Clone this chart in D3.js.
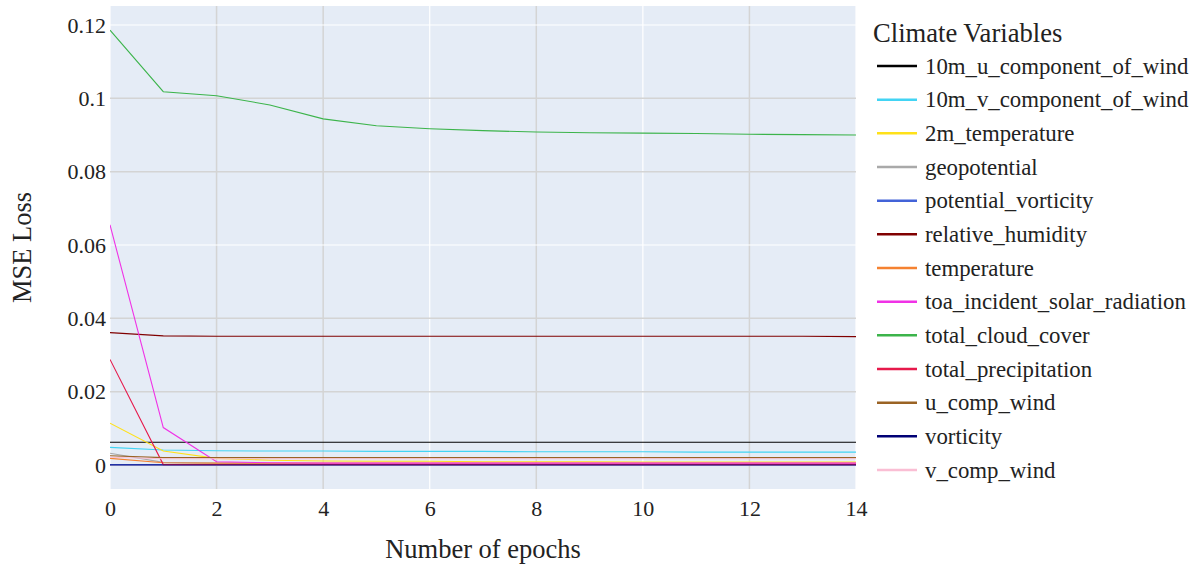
<!DOCTYPE html>
<html>
<head>
<meta charset="utf-8">
<script src="https://cdn.jsdelivr.net/npm/d3@7"></script>
<style>
  html, body { margin: 0; padding: 0; background: #fff; }
  svg { display: block; font-family: "Liberation Serif", "Times New Roman", serif; }
</style>
</head>
<body>
<svg id="chart" width="1198" height="570"></svg>
<script>
// Training loss per climate variable over epochs
const epochs = [0, 1, 2, 3, 4, 5, 6, 7, 8, 9, 10, 11, 12, 13, 14];

const variables = [
  "10m_u_component_of_wind", "10m_v_component_of_wind", "2m_temperature",
  "geopotential", "potential_vorticity", "relative_humidity", "temperature",
  "toa_incident_solar_radiation", "total_cloud_cover", "total_precipitation",
  "u_comp_wind", "vorticity", "v_comp_wind"
];

const colors = [
  "#000000", "#42d4f4", "#ffe119", "#a9a9a9", "#4363d8", "#800000", "#f58231",
  "#f032e6", "#3cb44b", "#e6194b", "#9a6324", "#000075", "#fabed4"
];

const loss10mU  = [0.0062, 0.0062, 0.0062, 0.0062, 0.0062, 0.0062, 0.0062, 0.0062, 0.0062, 0.0062, 0.0062, 0.0062, 0.0062, 0.0062, 0.0062];
const loss10mV  = [0.0048, 0.0041, 0.0039, 0.0038, 0.0038, 0.0037, 0.0037, 0.0037, 0.0036, 0.0036, 0.0036, 0.0035, 0.0035, 0.0035, 0.0035];
const loss2mT   = [0.0114, 0.0038, 0.0018, 0.0013, 0.0011, 0.0010, 0.0010, 0.0009, 0.0009, 0.0009, 0.0008, 0.0008, 0.0008, 0.0008, 0.0008];
const lossGeo   = [0.0032, 0.0007, 0.0005, 0.0004, 0.0004, 0.0004, 0.0004, 0.0004, 0.0003, 0.0003, 0.0003, 0.0003, 0.0003, 0.0003, 0.0003];
const lossPV    = [0.0001, 0.0001, 0.0001, 0.0001, 0.0001, 0.0001, 0.0001, 0.0001, 0.0001, 0.0001, 0.0001, 0.0001, 0.0001, 0.0001, 0.0001];
const lossRH    = [0.0361, 0.0352, 0.0351, 0.0351, 0.0351, 0.0351, 0.0351, 0.0351, 0.0351, 0.0351, 0.0351, 0.0351, 0.0351, 0.0351, 0.0350];
const lossTemp  = [0.0018, 0.0006, 0.0005, 0.0005, 0.0005, 0.0005, 0.0005, 0.0005, 0.0005, 0.0005, 0.0005, 0.0005, 0.0005, 0.0005, 0.0005];
const lossToa   = [0.0655, 0.0102, 0.0009, 0.0006, 0.0005, 0.0005, 0.0005, 0.0005, 0.0005, 0.0005, 0.0005, 0.0005, 0.0005, 0.0005, 0.0005];
const lossTcc   = [0.1186, 0.1018, 0.1007, 0.0982, 0.0944, 0.0925, 0.0917, 0.0912, 0.0908, 0.0906, 0.0905, 0.0904, 0.0902, 0.0901, 0.0900];
const lossTp    = [0.0288, 0.0001, 0.0001, 0.0001, 0.0001, 0.0001, 0.0001, 0.0001, 0.0001, 0.0001, 0.0001, 0.0001, 0.0001, 0.0001, 0.0001];
const lossUComp = [0.0025, 0.0020, 0.0020, 0.0020, 0.0020, 0.0020, 0.0020, 0.0020, 0.0020, 0.0020, 0.0020, 0.0020, 0.0020, 0.0020, 0.0020];
const lossVort  = [0.0000, 0.0000, 0.0000, 0.0000, 0.0000, 0.0000, 0.0000, 0.0000, 0.0000, 0.0000, 0.0000, 0.0000, 0.0000, 0.0000, 0.0000];
const lossVComp = [0.0021, 0.0017, 0.0017, 0.0017, 0.0017, 0.0017, 0.0017, 0.0017, 0.0017, 0.0017, 0.0017, 0.0017, 0.0017, 0.0017, 0.0017];

const seriesValues = [
  loss10mU, loss10mV, loss2mT, lossGeo, lossPV, lossRH, lossTemp,
  lossToa, lossTcc, lossTp, lossUComp, lossVort, lossVComp
];

const xTicks = [0, 2, 4, 6, 8, 10, 12, 14];
const yTicks = [0, 0.02, 0.04, 0.06, 0.08, 0.1, 0.12];
const xTickLabels = ["0", "2", "4", "6", "8", "10", "12", "14"];
const yTickLabels = ["0", "0.02", "0.04", "0.06", "0.08", "0.1", "0.12"];

// gridlines alternate between white and light grey
const xGridGrey = [false, true, true, false, true, false, true, false];
const yGridGrey = [false, true, true, false, true, true, false];

const svg = d3.select("#chart");
const plot = { left: 110, right: 856, top: 6, bottom: 489 };

const x = d3.scaleLinear().domain([0, 14]).range([plot.left, plot.right]);
const y = d3.scaleLinear().domain([-0.00655, 0.12518]).range([plot.bottom, plot.top]);

svg.append("rect")
  .attr("x", plot.left).attr("y", plot.top)
  .attr("width", plot.right - plot.left).attr("height", plot.bottom - plot.top)
  .attr("fill", "#e5ecf6");

// vertical grid
svg.append("g").selectAll("line").data(xTicks).join("line")
  .attr("x1", d => x(d)).attr("x2", d => x(d))
  .attr("y1", plot.top).attr("y2", plot.bottom)
  .attr("stroke", (d, i) => xGridGrey[i] ? "#d4d4d4" : "#ffffff")
  .attr("stroke-width", (d, i) => xGridGrey[i] ? 1.5 : 1.2);

// horizontal grid
svg.append("g").selectAll("line").data(yTicks).join("line")
  .attr("x1", plot.left).attr("x2", plot.right)
  .attr("y1", d => y(d)).attr("y2", d => y(d))
  .attr("stroke", (d, i) => yGridGrey[i] ? "#d4d4d4" : "#ffffff")
  .attr("stroke-width", (d, i) => d === 0 ? 2 : (yGridGrey[i] ? 1.5 : 1.2));

// axes text via d3 axes
const xAxis = d3.axisBottom(x).tickValues(xTicks)
  .tickFormat((d, i) => xTickLabels[i]).tickSize(0).tickPadding(11);
const gx = svg.append("g").attr("transform", `translate(0,${plot.bottom})`).call(xAxis)
  .attr("font-family", null).attr("font-size", 22);
gx.select(".domain").remove();
gx.selectAll("text").attr("fill", "#222");

const yAxis = d3.axisLeft(y).tickValues(yTicks)
  .tickFormat((d, i) => yTickLabels[i]).tickSize(0).tickPadding(4);
const gy = svg.append("g").attr("transform", `translate(${plot.left},0)`).call(yAxis)
  .attr("font-family", null).attr("font-size", 22);
gy.select(".domain").remove();
gy.selectAll("text").attr("fill", "#222");

// series lines
const clipId = "plotClip";
svg.append("clipPath").attr("id", clipId).append("rect")
  .attr("x", plot.left).attr("y", plot.top)
  .attr("width", plot.right - plot.left).attr("height", plot.bottom - plot.top);

const line = d3.line().x((d, i) => x(epochs[i])).y(d => y(d));
svg.append("g").attr("clip-path", `url(#${clipId})`)
  .selectAll("path").data(seriesValues).join("path")
  .attr("d", d => line(d))
  .attr("fill", "none")
  .attr("stroke", (d, i) => colors[i])
  .attr("stroke-width", 1.1);

// axis titles
svg.append("text")
  .attr("x", (plot.left + plot.right) / 2).attr("y", 558)
  .attr("text-anchor", "middle").attr("font-size", 26.5).attr("fill", "#222")
  .text("Number of epochs");

svg.append("text")
  .attr("transform", `translate(31,${(plot.top + plot.bottom) / 2}) rotate(-90)`)
  .attr("text-anchor", "middle").attr("font-size", 26.5).attr("fill", "#222")
  .text("MSE Loss");

// legend
const legend = svg.append("g");
legend.append("text")
  .attr("x", 873).attr("y", 42)
  .attr("font-size", 26.6).attr("fill", "#222")
  .text("Climate Variables");

const rowY = d3.scalePoint().domain(variables).range([66, 470]);
const items = legend.selectAll("g.item").data(variables).join("g")
  .attr("class", "item")
  .attr("transform", d => `translate(0,${rowY(d)})`);
items.append("line")
  .attr("x1", 877).attr("x2", 917).attr("y1", 0).attr("y2", 0)
  .attr("stroke", (d, i) => colors[i]).attr("stroke-width", 2.5);
items.append("text")
  .attr("x", 925).attr("y", 0).attr("dy", "0.33em")
  .attr("font-size", 22.8).attr("fill", "#222")
  .text(d => d);
</script>
</body>
</html>
